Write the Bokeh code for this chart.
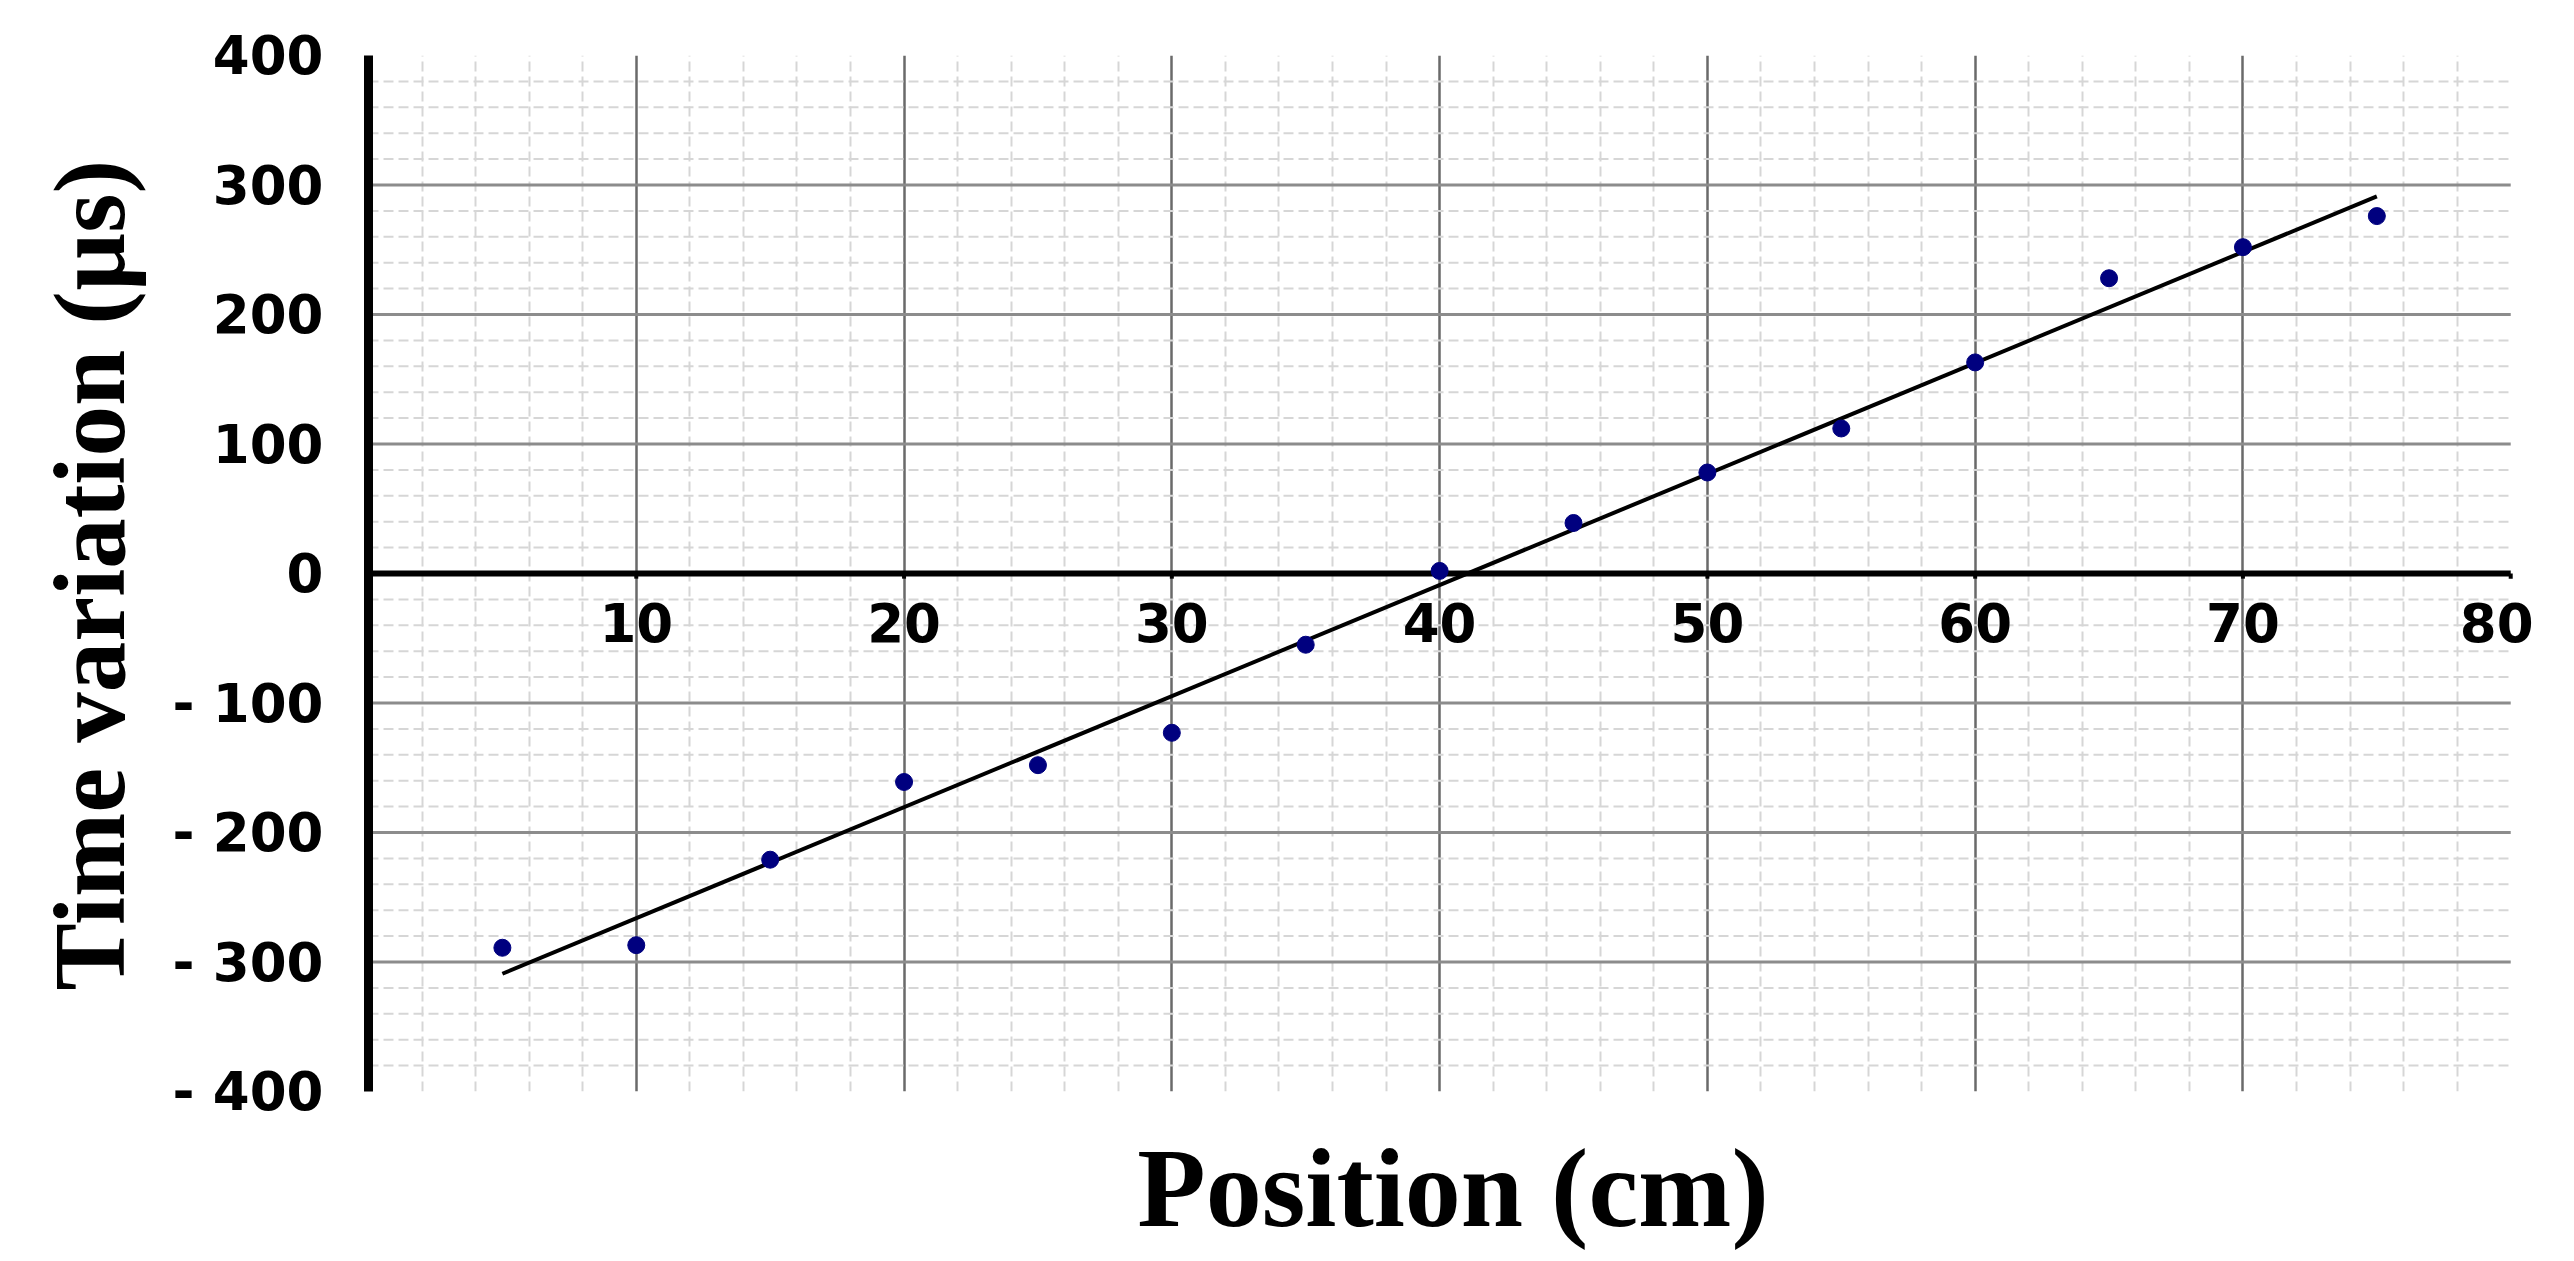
import numpy as np
from bokeh.plotting import figure
from bokeh.models import FixedTicker, Range1d, Title
from bokeh.core.properties import value
from bokeh.embed import file_html
from bokeh.resources import INLINE

# ---- data ----
position_cm = [5, 10, 15, 20, 25, 30, 35, 40, 45, 50, 55, 60, 65, 70, 75]
time_variation_us = [-289, -287, -221, -161, -148, -123, -55, 2, 39, 78, 112, 163, 228, 252, 276]

x_ticks = [10, 20, 30, 40, 50, 60, 70, 80]
x_tick_labels = ["10", "20", "30", "40", "50", "60", "70", "80"]
y_ticks = [-400, -300, -200, -100, 0, 100, 200, 300, 400]
y_tick_labels = ["- 400", "- 300", "- 200", "- 100", "0", "100", "200", "300", "400"]
x_title = "Position (cm)"
y_title = "Time variation (µs)"

x_axis_end = 80
x_grid_major = [10, 20, 30, 40, 50, 60, 70]
x_grid_minor = [m for m in range(2, 80, 2) if m % 10 != 0]
y_grid_major = [-300, -200, -100, 100, 200, 300]
y_grid_minor = [m for m in range(-380, 400, 20) if m % 100 != 0]

# least-squares trend line through the measured points
slope, intercept = np.polyfit(position_cm, time_variation_us, 1)
fit_x = [float(min(position_cm)), float(max(position_cm))]
fit_y = [float(slope * v + intercept) for v in fit_x]

TICK_FONT = "DejaVu Sans"
TITLE_FONT = "Liberation Serif"

p = figure(width=2558, height=1253,
           x_range=Range1d(0, 81.0), y_range=Range1d(-400, 400),
           output_backend="svg", toolbar_location=None,
           min_border_left=368, min_border_top=55,
           min_border_right=21, min_border_bottom=162)
p.outline_line_color = None
p.background_fill_color = "white"
p.border_fill_color = "white"

# ---- vertical grid lines (library grid) ----
p.xgrid.ticker = FixedTicker(ticks=x_grid_major, minor_ticks=x_grid_minor)
p.xgrid.grid_line_color = "#6a6a6a"
p.xgrid.grid_line_width = 2.5
p.xgrid.minor_grid_line_color = "#d6d6d6"
p.xgrid.minor_grid_line_width = 2
p.xgrid.minor_grid_line_dash = "10 5"
p.ygrid.visible = False

# ---- horizontal grid lines, ending at x = 80 ----
p.segment(x0=[0] * len(y_grid_minor), x1=[x_axis_end] * len(y_grid_minor),
          y0=y_grid_minor, y1=y_grid_minor,
          line_color="#d6d6d6", line_width=2, line_dash="10 5")
p.segment(x0=[0] * len(y_grid_major), x1=[x_axis_end] * len(y_grid_major),
          y0=y_grid_major, y1=y_grid_major,
          line_color="#8c8c8c", line_width=3)

# ---- x title on the bottom axis (no ticks there) ----
tx = p.xaxis[0]
tx.ticker = FixedTicker(ticks=[])
tx.axis_line_color = None
tx.major_tick_line_color = None
tx.minor_tick_line_color = None
tx.major_label_text_font_size = "0px"
tx.axis_label = x_title
tx.axis_label_text_font = TITLE_FONT
tx.axis_label_text_font_style = "bold"
tx.axis_label_text_font_size = "112px"
tx.axis_label_text_color = "black"
tx.axis_label_standoff = 34

# ---- y axis (ticks and labels) ----
ya = p.yaxis[0]
ya.ticker = FixedTicker(ticks=y_ticks)
ya.major_label_overrides = {t: lab for t, lab in zip(y_ticks, y_tick_labels)}
ya.axis_line_color = "black"
ya.axis_line_width = 9
ya.major_tick_line_color = None
ya.major_tick_in = 0
ya.major_tick_out = 0
ya.minor_tick_line_color = None
ya.major_label_text_font = TICK_FONT
ya.major_label_text_font_style = "bold"
ya.major_label_text_font_size = "53px"
ya.major_label_text_color = "black"
ya.major_label_standoff = 45

# ---- y title ----
yt = Title(text=y_title, align="left", offset=101, standoff=48,
           text_font=TITLE_FONT, text_font_style="bold",
           text_font_size="101px", text_color="black")
p.add_layout(yt, "left")

# ---- x axis drawn along y = 0 ----
label_shift = [0, 0, 0, 0, 0, 0, 0, -14]
p.segment(x0=[0], x1=[x_axis_end], y0=[0], y1=[0], line_color="black", line_width=6)
p.segment(x0=x_ticks, x1=x_ticks, y0=[0] * len(x_ticks), y1=[-4] * len(x_ticks),
          line_color="black", line_width=4)
p.text(x=x_ticks, y=[0] * len(x_ticks), text=x_tick_labels,
       text_font=value(TICK_FONT), text_font_style="bold", text_font_size="53px",
       text_color="black", text_align="center", text_baseline="top",
       x_offset=label_shift, y_offset=29)

# ---- data ----
p.line(fit_x, fit_y, line_color="black", line_width=4)
p.scatter(position_cm, time_variation_us, marker="circle", size=17,
          fill_color="#00007F", line_color="#00007F")

open("out.html", "w").write(file_html(p, INLINE))
